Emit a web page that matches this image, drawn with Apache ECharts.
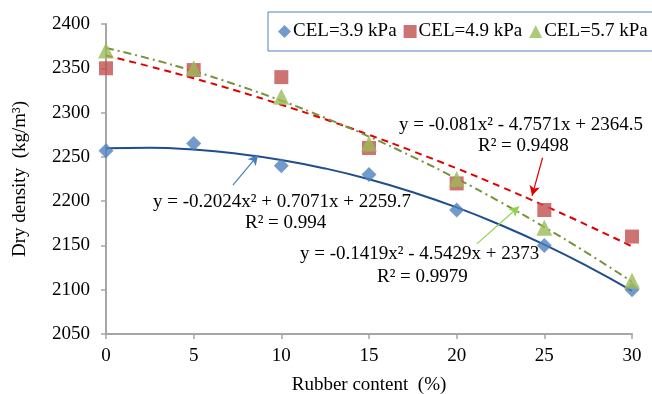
<!DOCTYPE html>
<html>
<head>
<meta charset="utf-8">
<script src="https://cdn.jsdelivr.net/npm/echarts@6/dist/echarts.min.js"></script>
<style>
  html, body { margin: 0; padding: 0; background: #fff; }
  #chart { width: 652px; height: 394px; }
</style>
</head>
<body>
<div id="chart"></div>
<script>
// rubber content (%)
var rubber = [0, 5, 10, 15, 20, 25, 30];
// measured dry density
var cel39 = [2257, 2265, 2240, 2230, 2190, 2150, 2100];
var cel49 = [2350, 2348, 2340, 2260, 2220, 2190, 2160];
var cel57 = [2370, 2350, 2318, 2265, 2225, 2170, 2110];
// trend curves, every 2.5 %
var trendX = [0, 2.5, 5, 7.5, 10, 12.5, 15, 17.5, 20, 22.5, 25, 27.5, 30];
var trend39 = [2259.7, 2260.2, 2258.2, 2253.6, 2246.5, 2236.9, 2224.8, 2210.1, 2192.9, 2173.1, 2150.9, 2126.1, 2098.8];
var trend49 = [2364.5, 2352.1, 2338.7, 2324.3, 2308.8, 2292.4, 2274.9, 2256.4, 2237.0, 2216.5, 2194.9, 2172.4, 2148.9];
var trend57 = [2373.0, 2360.8, 2346.7, 2330.9, 2313.4, 2294.0, 2272.9, 2250.0, 2225.4, 2198.9, 2170.7, 2140.8, 2109.0];
var yTicks = [2050, 2100, 2150, 2200, 2250, 2300, 2350, 2400];
var legendNames = ["CEL=3.9 kPa", "CEL=4.9 kPa", "CEL=5.7 kPa"];

function pairs(xs, ys) {
  var out = [];
  for (var i = 0; i < xs.length; i++) out.push([xs[i], ys[i]]);
  return out;
}

var font = "'Liberation Serif', 'Times New Roman', serif";
var fs = 19;
var axisGray = "#a6a6a6";

var chart = echarts.init(document.getElementById("chart"));

var option = {
  animation: false,
  textStyle: { fontFamily: font },
  grid: { left: 106, right: 20, top: 24, bottom: 60, outerBoundsMode: "none", containLabel: false },
  legend: {
    data: legendNames,
    left: 268,
    top: 12,
    width: 400,
    padding: [10, 6, 10, 10],
    itemGap: 7,
    itemWidth: 13,
    itemHeight: 13,
    borderColor: "#4f81bd",
    borderWidth: 1,
    textStyle: { fontFamily: font, fontSize: fs, color: "#000", padding: [0, 0, 0, -3] }
  },
  xAxis: {
    type: "value",
    min: 0,
    max: 30,
    interval: 5,
    name: "Rubber content  (%)",
    nameLocation: "middle",
    nameGap: 42,
    nameTextStyle: { fontFamily: font, fontSize: fs, color: "#000" },
    axisLine: { lineStyle: { color: axisGray, width: 2 } },
    axisTick: { show: true, length: 5, lineStyle: { color: axisGray, width: 1.5 } },
    axisLabel: { fontFamily: font, fontSize: fs, color: "#000", margin: 13 },
    splitLine: { show: false }
  },
  yAxis: {
    type: "value",
    min: yTicks[0],
    max: yTicks[yTicks.length - 1],
    interval: 50,
    name: "Dry density  (kg/m³)",
    nameLocation: "middle",
    nameGap: 76,
    nameTextStyle: { fontFamily: font, fontSize: fs, color: "#000" },
    axisLine: { show: true, lineStyle: { color: axisGray, width: 2 } },
    axisTick: { show: true, length: 5, lineStyle: { color: axisGray, width: 1.5 } },
    axisLabel: {
      fontFamily: font, fontSize: fs, color: "#000", margin: 16,
      formatter: function (v) { return String(v); }
    },
    splitLine: { show: false }
  },
  series: [
    {
      name: "trend39",
      type: "line",
      data: pairs(trendX, trend39),
      smooth: true,
      showSymbol: false,
      lineStyle: { color: "#1f4e8c", width: 2 },
      z: 2,
      markLine: {
        silent: true,
        symbol: ["none", "arrow"],
        symbolSize: [8, 10],
        label: { show: false },
        lineStyle: { color: "#4a7ebb", width: 1.2, type: "solid" },
        data: [[{ coord: [7.24, 2218] }, { coord: [8.67, 2252] }]]
      }
    },
    {
      name: "trend49",
      type: "line",
      data: pairs(trendX, trend49),
      smooth: true,
      showSymbol: false,
      lineStyle: { color: "#e00000", width: 2, type: [7, 5] },
      z: 2,
      markLine: {
        silent: true,
        symbol: ["none", "arrow"],
        symbolSize: [8, 10],
        label: { show: false },
        lineStyle: { color: "#e00000", width: 1.2, type: "solid" },
        data: [[{ coord: [24.9, 2249] }, { coord: [24.3, 2206] }]]
      }
    },
    {
      name: "trend57",
      type: "line",
      data: pairs(trendX, trend57),
      smooth: true,
      showSymbol: false,
      lineStyle: { color: "#77933c", width: 2, type: [8, 4, 2, 4] },
      z: 2,
      markLine: {
        silent: true,
        symbol: ["none", "arrow"],
        symbolSize: [8, 10],
        label: { show: false },
        lineStyle: { color: "#92d050", width: 1.2, type: "solid" },
        data: [[{ coord: [21.15, 2151.7] }, { coord: [23.56, 2194] }]]
      }
    },
    {
      name: legendNames[0],
      type: "scatter",
      data: pairs(rubber, cel39),
      symbol: "diamond",
      symbolSize: 15,
      itemStyle: { color: "#4f81bd" },
      z: 3
    },
    {
      name: legendNames[1],
      type: "scatter",
      data: pairs(rubber, cel49),
      symbol: "rect",
      symbolSize: 14,
      itemStyle: { color: "#c0504d" },
      z: 3
    },
    {
      name: legendNames[2],
      type: "scatter",
      data: pairs(rubber, cel57),
      symbol: "triangle",
      symbolSize: 16,
      itemStyle: { color: "#9bbb59" },
      z: 4
    }
  ],
  graphic: [
    { type: "text", left: 153, top: 193, style: { text: "y = -0.2024x² + 0.7071x + 2259.7", font: fs + "px " + font, fill: "#000" } },
    { type: "text", left: 245, top: 214, style: { text: "R² = 0.994", font: fs + "px " + font, fill: "#000" } },
    { type: "text", left: 399, top: 116, style: { text: "y = -0.081x² - 4.7571x + 2364.5", font: fs + "px " + font, fill: "#000" } },
    { type: "text", left: 478, top: 137, style: { text: "R² = 0.9498", font: fs + "px " + font, fill: "#000" } },
    { type: "text", left: 300, top: 245, style: { text: "y = -0.1419x² - 4.5429x + 2373", font: fs + "px " + font, fill: "#000" } },
    { type: "text", left: 377, top: 268, style: { text: "R² = 0.9979", font: fs + "px " + font, fill: "#000" } }
  ]
};

chart.setOption(option);
</script>
</body>
</html>
